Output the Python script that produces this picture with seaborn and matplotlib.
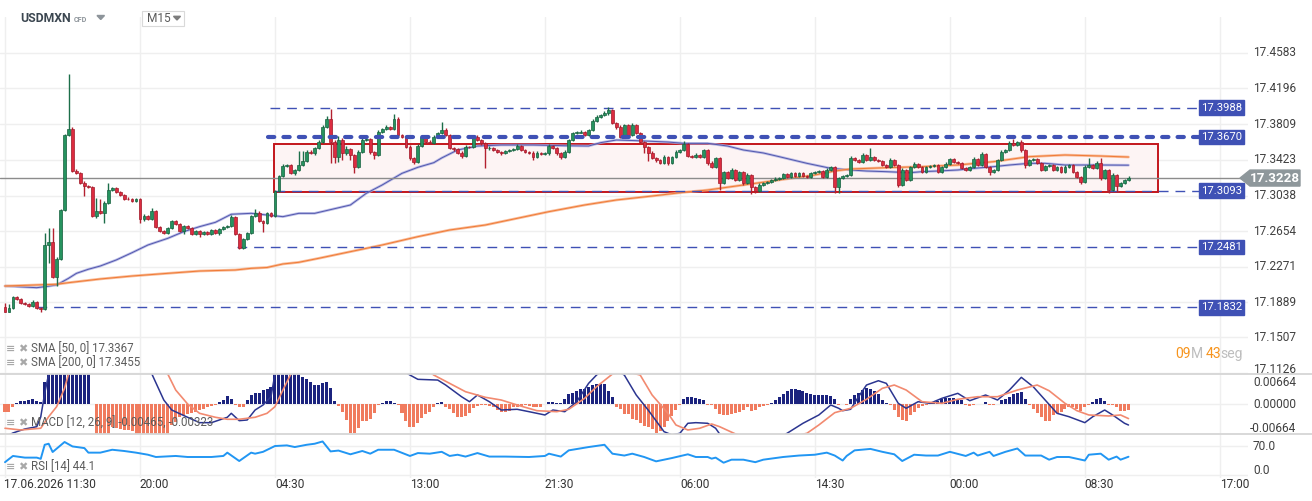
import numpy as np
import pandas as pd
import seaborn as sns
import matplotlib.pyplot as plt
from matplotlib.patches import Rectangle, Polygon
from matplotlib.lines import Line2D

# USDMXN M15 candles, prices in 1/10000 above 17.0000
first_open = 1832
closes = [1785, 1821, 1947, 1919, 1882, 1868, 1846, 1886, 1828, 1811,
          2505, 2541, 2156, 2351, 2883, 3693, 3755, 3307, 3286, 3178,
          3142, 3135, 2818, 2872, 2854, 2962, 3099, 3121, 3081, 3045,
          3005, 2999, 2980, 2999, 2783, 2818, 2789, 2875, 2703, 2659,
          2631, 2689, 2764, 2732, 2659, 2710, 2685, 2624, 2653, 2621,
          2649, 2624, 2667, 2631, 2675, 2703, 2713, 2811, 2624, 2469,
          2570, 2638, 2821, 2854, 2764, 2739, 2847, 2821, 3088, 3250,
          3358, 3366, 3279, 3310, 3369, 3415, 3513, 3495, 3549, 3621,
          3783, 3863, 3621, 3459, 3639, 3495, 3542, 3477, 3351, 3513,
          3639, 3647, 3513, 3477, 3729, 3755, 3776, 3758, 3863, 3693,
          3675, 3567, 3441, 3405, 3574, 3675, 3621, 3603, 3675, 3711,
          3747, 3693, 3549, 3539, 3502, 3466, 3567, 3560, 3675, 3639,
          3607, 3549, 3556, 3531, 3513, 3495, 3520, 3531, 3539, 3574,
          3531, 3513, 3502, 3459, 3495, 3488, 3495, 3574, 3549, 3495,
          3459, 3513, 3639, 3711, 3720, 3729, 3693, 3747, 3844, 3891,
          3909, 3927, 3963, 3823, 3779, 3671, 3801, 3693, 3801, 3715,
          3617, 3563, 3499, 3445, 3423, 3391, 3455, 3391, 3455, 3509,
          3531, 3596, 3466, 3455, 3477, 3455, 3531, 3391, 3347, 3445,
          3175, 3293, 3229, 3315, 3207, 3293, 3175, 3261, 3131, 3088,
          3153, 3175, 3185, 3207, 3218, 3229, 3272, 3239, 3283, 3250,
          3283, 3250, 3239, 3283, 3293, 3304, 3239, 3315, 3347, 3131,
          3229, 3250, 3261, 3445, 3423, 3401, 3477, 3423, 3455, 3423,
          3412, 3369, 3347, 3423, 3369, 3153, 3315, 3207, 3347, 3380,
          3347, 3293, 3347, 3358, 3369, 3293, 3347, 3380, 3434, 3401,
          3391, 3337, 3315, 3347, 3434, 3369, 3488, 3347, 3293, 3315,
          3423, 3509, 3531, 3607, 3585, 3617, 3531, 3369, 3423, 3434,
          3391, 3315, 3358, 3369, 3315, 3347, 3293, 3347, 3369, 3293,
          3239, 3185, 3347, 3369, 3337, 3391, 3229, 3315, 3099, 3261,
          3142, 3175, 3207, 3228]
upper_wicks = [50, 43, 10, 8, 10, 12, 10, 20, 12, 10,
               130, 150, 150, 20, 10, 10, 600, 20, 15, 10,
               15, 10, 10, 137, 125, 15, 80, 15, 10, 12,
               10, 15, 10, 12, 10, 20, 10, 30, 10, 12,
               10, 15, 12, 10, 15, 10, 12, 10, 15, 10,
               12, 10, 15, 10, 12, 10, 10, 15, 12, 10,
               15, 12, 10, 40, 15, 10, 12, 10, 15, 10,
               20, 15, 10, 15, 150, 105, 20, 15, 10, 15,
               20, 30, 108, 15, 43, 20, 30, 15, 10, 20,
               25, 20, 15, 10, 20, 15, 25, 15, 60, 20,
               15, 10, 15, 10, 20, 15, 10, 15, 20, 15,
               83, 20, 10, 15, 10, 15, 20, 10, 15, 20,
               10, 15, 20, 10, 15, 10, 15, 10, 15, 20,
               10, 15, 10, 15, 20, 10, 15, 20, 15, 10,
               15, 20, 15, 10, 15, 20, 10, 15, 20, 15,
               15, 20, 32, 15, 10, 20, 15, 10, 20, 15,
               10, 15, 10, 20, 10, 15, 20, 10, 15, 20,
               15, 30, 10, 15, 20, 10, 15, 10, 20, 15,
               10, 15, 10, 20, 10, 15, 10, 20, 10, 15,
               20, 15, 10, 15, 20, 10, 15, 10, 15, 10,
               15, 10, 15, 10, 15, 10, 15, 20, 15, 10,
               15, 10, 15, 20, 15, 10, 20, 15, 97, 15,
               10, 15, 10, 20, 10, 15, 20, 10, 15, 20,
               10, 15, 10, 15, 10, 15, 10, 20, 15, 10,
               15, 10, 15, 10, 20, 15, 20, 10, 15, 10,
               15, 20, 15, 20, 43, 15, 20, 10, 15, 10,
               15, 10, 15, 10, 15, 10, 15, 20, 10, 15,
               10, 15, 22, 76, 15, 20, 54, 15, 10, 20,
               15, 10, 15, 20]
lower_wicks = [5, 5, 10, 8, 12, 10, 12, 10, 10, 25,
               10, 195, 10, 90, 10, 10, 10, 15, 10, 12,
               108, 15, 12, 20, 15, 110, 10, 12, 15, 10,
               12, 10, 15, 10, 40, 15, 10, 12, 15, 10,
               12, 10, 15, 10, 12, 30, 10, 15, 12, 30,
               10, 15, 12, 10, 15, 12, 10, 15, 10, 10,
               12, 15, 10, 12, 15, 90, 10, 15, 12, 10,
               15, 10, 12, 15, 10, 15, 12, 10, 15, 12,
               10, 15, 230, 68, 57, 72, 15, 54, 72, 15,
               12, 10, 20, 46, 15, 10, 12, 15, 10, 20,
               12, 15, 20, 25, 15, 10, 15, 12, 10, 15,
               12, 15, 10, 20, 12, 25, 15, 10, 12, 15,
               20, 216, 15, 12, 10, 15, 12, 10, 15, 12,
               15, 10, 12, 36, 15, 10, 12, 15, 10, 15,
               20, 12, 10, 15, 12, 10, 15, 12, 10, 15,
               12, 10, 15, 12, 20, 15, 10, 15, 12, 10,
               15, 65, 86, 15, 20, 15, 12, 20, 10, 15,
               12, 10, 15, 12, 10, 15, 12, 20, 15, 10,
               76, 15, 12, 10, 15, 12, 20, 15, 76, 20,
               15, 12, 10, 15, 12, 10, 15, 12, 10, 15,
               12, 10, 15, 12, 10, 15, 12, 10, 15, 60,
               65, 15, 12, 10, 15, 12, 10, 15, 12, 10,
               15, 12, 10, 15, 12, 22, 15, 12, 10, 15,
               12, 10, 15, 12, 10, 15, 12, 10, 15, 12,
               10, 15, 12, 10, 15, 12, 10, 15, 32, 12,
               10, 15, 12, 10, 15, 12, 20, 30, 15, 12,
               10, 15, 12, 10, 15, 12, 10, 15, 12, 10,
               15, 22, 12, 10, 15, 12, 20, 15, 32, 12,
               65, 15, 10, 12]

# moving averages, read at a subset of bars (1/10000 above 17)
sma50_bars = [0, 8, 10, 13, 16, 18, 21, 24, 28, 32, 36, 41, 45, 49, 53, 57, 62, 66, 70, 74,
              78, 87, 91, 95, 100, 104, 108, 110, 114, 119, 125, 133, 141, 147, 150, 154, 159, 167, 171, 177,
              182, 186, 191, 195, 202, 208, 213, 217, 222, 228, 231, 235, 240, 244, 249, 253, 258, 262, 267, 271,
              276, 283]
sma50_vals = [2062, 2044, 2055, 2073, 2145, 2199, 2243, 2278, 2343, 2422, 2505, 2577, 2649, 2703, 2750, 2837, 2847, 2829, 2811, 2847,
              2847, 2937, 3063, 3153, 3279, 3344, 3394, 3445, 3531, 3574, 3585, 3585, 3577, 3574, 3610, 3639, 3632, 3617, 3603, 3603,
              3574, 3531, 3499, 3459, 3387, 3333, 3315, 3304, 3297, 3286, 3297, 3304, 3315, 3333, 3351, 3369, 3387, 3387, 3369, 3369,
              3369, 3367]
sma200_bars = [0, 13, 16, 24, 32, 41, 49, 58, 62, 66, 70, 74, 79, 87, 95, 104, 112, 121, 129, 137,
               146, 154, 163, 171, 177, 186, 195, 204, 209, 213, 222, 231, 240, 249, 258, 267, 276, 283]
sma200_vals = [2062, 2081, 2098, 2138, 2170, 2199, 2224, 2235, 2253, 2262, 2300, 2318, 2361, 2433, 2505, 2595, 2667, 2721, 2793, 2865,
               2937, 2991, 3034, 3074, 3099, 3153, 3207, 3261, 3304, 3326, 3340, 3351, 3369, 3405, 3459, 3477, 3466, 3455]

# MACD (12, 26, 9), values in 1e-5
macd_hist = [-170, -170, -73, 29, 60, 73, 88, 104, 73, 44,
             486, 884, 1216, 1326, 1282, 1216, 1105, 1061, 995, 928,
             840, 751, 11, -729, -796, -840, -796, -508, -530, -553,
             -575, -575, -597, -663, -729, -774, -818, -840, -818, -774,
             -729, -685, -464, -391, -281, -243, -221, -192, -170, -133,
             -117, -73, -44, -22, 51, 88, 177, 104, -22, -73,
             -60, 88, 199, 236, 250, 309, 325, 382, 774, 884,
             995, 1039, 1017, 972, 884, 597, 546, 493, 420, 420,
             457, 493, 347, 73, -44, -170, -354, -634, -634, -537,
             -369, -369, -338, -192, -22, 29, 73, 73, 15, -22,
             -206, -369, -515, -502, -427, -316, -221, -170, -60, 29,
             44, -60, -117, -206, -294, -294, -265, -192, -95, -44,
             -15, -15, -44, -73, -133, -170, -170, -148, -73, -60,
             -44, -29, -44, -73, -73, -73, 11, 44, 44, 22,
             33, 104, 221, 250, 294, 325, 325, 382, 420, 442,
             442, 442, 294, 161, -73, -117, -221, -221, -338, -354,
             -427, -486, -515, -559, -634, -590, -502, -369, -265, -133,
             -15, 117, 161, 148, 133, 104, 88, -15, -29, -117,
             -221, -243, -243, -221, -192, -170, -133, -73, -148, -133,
             -73, -44, -15, 15, 88, 161, 221, 294, 325, 325,
             309, 281, 250, 221, 206, 206, 206, 206, 177, 104,
             -15, -7, -15, 104, 199, 250, 309, 347, 325, 294,
             221, 88, 15, -15, -133, -281, -354, -369, -243, -170,
             -95, -44, -15, 29, 44, 73, 104, 126, 133, 133,
             117, 88, -15, -44, -15, -7, 7, 44, -15, -29,
             -7, 88, 117, 161, 221, 250, 272, 104, -15, -117,
             -192, -281, -369, -369, -243, -206, -170, -117, -73, -73,
             -117, -148, -73, -15, 44, 104, 133, 60, -15, -15,
             -73, -161, -161, -141]
macd_bars = [0, 2, 5, 8, 9, 10, 11, 12, 16, 20, 25, 30, 35, 37, 40, 42, 46, 49, 52, 56,
             57, 59, 61, 63, 65, 67, 68, 70, 75, 80, 85, 90, 95, 100, 102, 104, 109, 111, 115, 117,
             119, 122, 125, 129, 132, 136, 138, 141, 144, 147, 149, 151, 153, 156, 159, 162, 166, 168, 170, 172,
             174, 177, 179, 180, 183, 188, 192, 195, 197, 201, 205, 208, 210, 211, 213, 215, 217, 220, 222, 225,
             227, 230, 233, 236, 240, 243, 247, 250, 253, 256, 259, 262, 265, 268, 272, 274, 277, 279, 282, 283]
macd_vals = [-729, -641, -553, -502, -287, 236, 663, 995, 1547, 1658, 1437, 1105, 796, 663, 88, -133, -294, -413, -413, -294,
             -206, -369, -354, -133, -22, 161, 663, 995, 1326, 1547, 1326, 1105, 928, 751, 641, 546, 530, 420, 161, 51,
             199, 51, -133, -117, -170, -243, -133, -170, 51, 457, 641, 774, 796, 641, 199, -133, -612, -685, -648, -427,
             -413, -427, -537, -663, -840, -928, -884, -751, -648, -427, -243, -22, -95, -148, -117, 161, 420, 515, 457, 15,
             -95, 51, 15, 126, 236, 73, 199, 88, 309, 590, 382, 88, -206, -281, -413, -281, -133, -243, -427, -465]
signal_bars = [0, 4, 9, 11, 13, 15, 16, 20, 25, 30, 35, 38, 41, 43, 46, 49, 53, 56, 59, 63,
               66, 68, 70, 72, 78, 85, 92, 100, 106, 108, 112, 116, 121, 125, 129, 134, 139, 142, 146, 149,
               153, 156, 160, 163, 167, 169, 172, 175, 178, 180, 184, 188, 193, 198, 202, 205, 209, 213, 217, 221,
               224, 227, 231, 236, 240, 245, 250, 255, 260, 263, 267, 270, 273, 278, 281, 283]
signal_vals = [-537, -575, -537, -281, -60, 347, 663, 1216, 1370, 1326, 995, 774, 663, 309, 0, -206, -294, -338, -338, -294,
               -206, -60, 309, 663, 1105, 1282, 1216, 995, 774, 641, 457, 272, 148, 88, -22, -148, -170, -117, 126, 382,
               663, 729, 641, 199, -206, -464, -575, -537, -442, -502, -663, -751, -796, -729, -648, -464, -192, -95, 104, 347,
               420, 309, 51, 15, 104, 161, 161, 309, 420, 294, 15, -148, -243, -265, -243, -323]

# RSI (14)
rsi_bars = [0, 2, 5, 8, 9, 10, 11, 12, 15, 17, 20, 21, 24, 27, 30, 33, 36, 38, 43, 46,
            52, 55, 56, 59, 62, 63, 65, 68, 71, 73, 76, 78, 80, 82, 84, 87, 90, 92, 94, 98,
            102, 104, 107, 110, 112, 114, 116, 119, 122, 126, 132, 136, 137, 140, 142, 147, 151, 153, 156, 158,
            161, 164, 168, 172, 174, 177, 178, 179, 181, 183, 186, 189, 191, 196, 200, 204, 207, 209, 211, 212,
            214, 218, 221, 224, 226, 229, 232, 235, 238, 242, 244, 245, 248, 249, 252, 255, 257, 261, 263, 265,
            268, 272, 273, 276, 278, 280, 281, 283]
rsi_vals = [31, 46, 42, 42, 39, 73, 75.5, 55.5, 79.7, 69, 65, 54, 54, 61, 58, 54, 49, 43.5, 46, 43.5,
            43.5, 46, 54, 33.8, 54, 51.5, 56, 70, 71.5, 67.5, 73, 75.5, 81, 57, 59, 50, 58, 51.5, 61, 61,
            46, 53, 51.5, 56, 46, 49, 44.5, 53, 44.5, 44.5, 43.5, 46, 51.5, 44.5, 59.5, 67.5, 73, 51.5, 47, 51.5,
            43.5, 33, 41, 50, 43.5, 43.5, 39.5, 42, 29.7, 37, 37, 31, 37, 43.5, 47, 49, 54, 47, 35, 46,
            59.5, 63, 56, 50, 33.8, 49, 47, 47, 56, 46, 54, 47, 56, 46, 56, 64, 47, 47, 37, 43.5,
            43.5, 35, 49, 51.5, 37, 44.5, 37, 44.1]

price_ticks = [17.1126, 17.1507, 17.1889, 17.2271, 17.2654, 17.3038, 17.3423, 17.3809, 17.4196, 17.4583]
time_labels = ["17.06.2026 11:30", "20:00", "04:30", "13:00", "21:30", "06:00", "14:30", "00:00", "08:30", "17:00"]
bars_per_label = 34
levels = [17.3988, 17.3670, 17.3093, 17.2481, 17.1832]
last_price = 17.3228
box_low, box_high = 17.3077, 17.3596

sns.set_style("white")
plt.rcParams['font.family'] = ['Roboto', 'DejaVu Sans']

W, H = 1312, 501
fig = plt.figure(figsize=(W / 100, H / 100), dpi=100)


def fx(px):
    return px / W


def fy(py):
    return 1 - py / H


def slot(px):
    # pixel column -> candle slot
    return (px - 5) / 3.97


def ftext(x, y, s, **kw):
    kw.setdefault('va', 'center')
    fig.text(fx(x), fy(y), s, **kw)


def fpoly(pts, **kw):
    fig.add_artist(Polygon([(fx(x), fy(y)) for x, y in pts], closed=True,
                           transform=fig.transFigure, **kw))


ax = fig.add_axes([0, fy(374), 1248 / W, (374 - 17) / H])
axm = fig.add_axes([0, fy(434), 1248 / W, 60 / H])
axr = fig.add_axes([0, fy(478), 1248 / W, 44 / H])
for a in (ax, axm, axr):
    a.axis('off')

grid_c = '#efefef'
for a in (ax, axm, axr):
    for k in range(len(time_labels)):
        a.axvline(k * bars_per_label, color=grid_c, lw=1, zorder=0)
for p in price_ticks:
    ax.axhline(p, color=grid_c, lw=1, zorder=0)

# range box
ax.add_patch(Rectangle((slot(274), box_low), slot(1158) - slot(274), box_high - box_low,
                       facecolor='#fdf4f4', edgecolor='#c3161c', lw=1.4, zorder=1))

# candles
c = 17 + np.array(closes) / 1e4
o = np.concatenate([[17 + first_open / 1e4], c[:-1]])
hi = np.maximum(o, c) + np.array(upper_wicks) / 1e4
lo = np.minimum(o, c) - np.array(lower_wicks) / 1e4
idx = np.arange(len(c))
rising = c >= o
ax.vlines(idx, lo, hi, colors=np.where(rising, '#1c6e49', '#b3202f'), lw=1, zorder=3)
ax.bar(idx, np.maximum(np.abs(c - o), 0.0008), bottom=np.minimum(o, c), width=0.72,
       color=np.where(rising, '#26935f', '#dc2c40'),
       edgecolor=np.where(rising, '#17603f', '#a01b2b'), lw=0.5, zorder=4)

# moving averages
sma50 = pd.DataFrame({'bar': sma50_bars, 'price': 17 + np.array(sma50_vals) / 1e4})
sma200 = pd.DataFrame({'bar': sma200_bars, 'price': 17 + np.array(sma200_vals) / 1e4})
sns.lineplot(data=sma50, x='bar', y='price', ax=ax, color='#abaee2', lw=1.9, alpha=0.8, zorder=2)
sns.lineplot(data=sma50, x='bar', y='price', ax=ax, color='#5257ad', lw=0.7, zorder=2)
sns.lineplot(data=sma200, x='bar', y='price', ax=ax, color='#f7ab80', lw=1.9, alpha=0.8, zorder=2)
sns.lineplot(data=sma200, x='bar', y='price', ax=ax, color='#f07a35', lw=0.7, zorder=2)

# horizontal levels
lvl_start = [slot(270), slot(268), slot(275), slot(237), slot(37)]
lvl_end = slot(1199)
ytr = ax.get_yaxis_transform()
for p, x0 in zip(levels, lvl_start):
    if p == 17.3670:
        ax.plot([x0, lvl_end], [p, p], color='#3f51b5', lw=3, ls=(0, (1.5, 2.2)),
                dash_capstyle='round', zorder=5)
    else:
        ax.plot([x0, lvl_end], [p, p], color='#3f51b5', lw=1, ls=(0, (7, 5)), zorder=2.5)
    ax.add_patch(Rectangle((1199 / 1248, p - 0.0078), 45 / 1248, 0.0156, transform=ytr,
                           color='#3f51b5', zorder=6, clip_on=False))
    ax.text(1221.5 / 1248, p, f'{p:.4f}', transform=ytr, color='white', fontsize=8.1,
            ha='center', va='center', zorder=7)

# last price
ax.axhline(last_price, color='#8c8c8c', lw=1, zorder=2)
ly = (5151 - (last_price - 17) * 1e4) / 10.8
fpoly([(1240, ly), (1250, ly - 8), (1300, ly - 8), (1300, ly + 8), (1250, ly + 8)], color='#8e979b')
ftext(1275, ly, f'{last_price:.4f}', color='white', fontsize=9.6, fontweight='bold', ha='center')

for p in price_ticks:
    yy = p + 0.003 if p == price_ticks[0] else p
    ax.text(1253 / 1248, yy, f'{p:.4f}', transform=ytr, fontsize=8.6, color='#404040',
            ha='left', va='center', clip_on=False)

ax.set_xlim(slot(0), slot(1248))
ax.set_ylim(17.11118, 17.49674)

# MACD panel
h = np.array(macd_hist) / 1e5
axm.axhline(0, color=grid_c, lw=1, zorder=0)
axm.bar(idx, h, width=0.76, color=np.where(h >= 0, '#1b237e', '#f07b5e'), lw=0,
        antialiased=False, zorder=2)
sns.lineplot(x=macd_bars, y=np.array(macd_vals) / 1e5, ax=axm, color='#2b3590', lw=1.1, zorder=3)
sns.lineplot(x=signal_bars, y=np.array(signal_vals) / 1e5, ax=axm, color='#f28a70', lw=1.2, zorder=3)
axm.set_xlim(slot(0), slot(1248))
axm.set_ylim(-0.00664, 0.00664)

# RSI panel
axr.axhline(70, color=grid_c, lw=1, zorder=0)
axr.axhline(0, color=grid_c, lw=1, zorder=0)
sns.lineplot(x=rsi_bars, y=rsi_vals, ax=axr, color='#2196f3', lw=1.4, zorder=3)
axr.set_xlim(slot(0), slot(1248))
axr.set_ylim(-7.2, 99)

# panel separators
for yy in (374, 434):
    fig.add_artist(Line2D([0, 1], [fy(yy), fy(yy)], transform=fig.transFigure,
                          color='#d6d6d6', lw=1.3))

# right labels of lower panels
ftext(1253, 382, '0.00664', fontsize=8.6, color='#404040')
ftext(1253, 404, '0.00000', fontsize=8.6, color='#404040')
ftext(1250, 429, '-0.00664', fontsize=8.6, color='#404040')
ftext(1253, 447, '70.0', fontsize=8.6, color='#404040')
ftext(1253, 471, '0.0', fontsize=8.6, color='#404040')

# time axis
for k, lab in enumerate(time_labels):
    gx = 5 + k * bars_per_label * 3.97
    ftext(gx - 1 if k == 0 else gx, 484, lab, fontsize=8.6, color='#333333', ha='left')

# legends
icon_kw = dict(fontsize=8, color='#a8a8a8', family=['DejaVu Sans'], fontweight='bold')
for yy, lab in [(349, 'SMA [50, 0] 17.3367'), (363, 'SMA [200, 0] 17.3455'),
                (423, 'MACD [12, 26, 9] -0.00465, -0.00323'), (467, 'RSI [14] 44.1')]:
    ftext(6, yy, '\u2261', **icon_kw)
    ftext(18, yy, '\u2716', **icon_kw)
    ftext(31, yy, lab, fontsize=8.3, color='#5c5c5c')

# countdown
ftext(1175, 354, '09', fontsize=10.1, color='#f7941d')
ftext(1191, 354, 'M', fontsize=10.1, color='#bdbdbd')
ftext(1206, 354, '43', fontsize=10.1, color='#f7941d')
ftext(1220, 354, 'seg', fontsize=10.1, color='#bdbdbd')

# header
ftext(20.5, 18.5, 'USDMXN', fontsize=8.8, fontweight='bold', color='#3b4650')
ftext(74, 19.5, 'CFD', fontsize=5.2, fontweight='bold', color='#8d949a')
fpoly([(97, 15.5), (104.5, 15.5), (100.75, 19.5)], color='#8d949a')
fig.add_artist(Rectangle((fx(141.7), fy(25.7)), 42.6 / W, 15 / H, transform=fig.transFigure,
                         facecolor='white', edgecolor='#d9d9d9', lw=0.8))
ftext(147, 18.5, 'M15', fontsize=8.6, color='#5a5a5a')
fpoly([(173.5, 16.3), (180.5, 16.3), (177, 20)], color='#7d7d7d')

fig.savefig('out.png', dpi=100, facecolor='white')
